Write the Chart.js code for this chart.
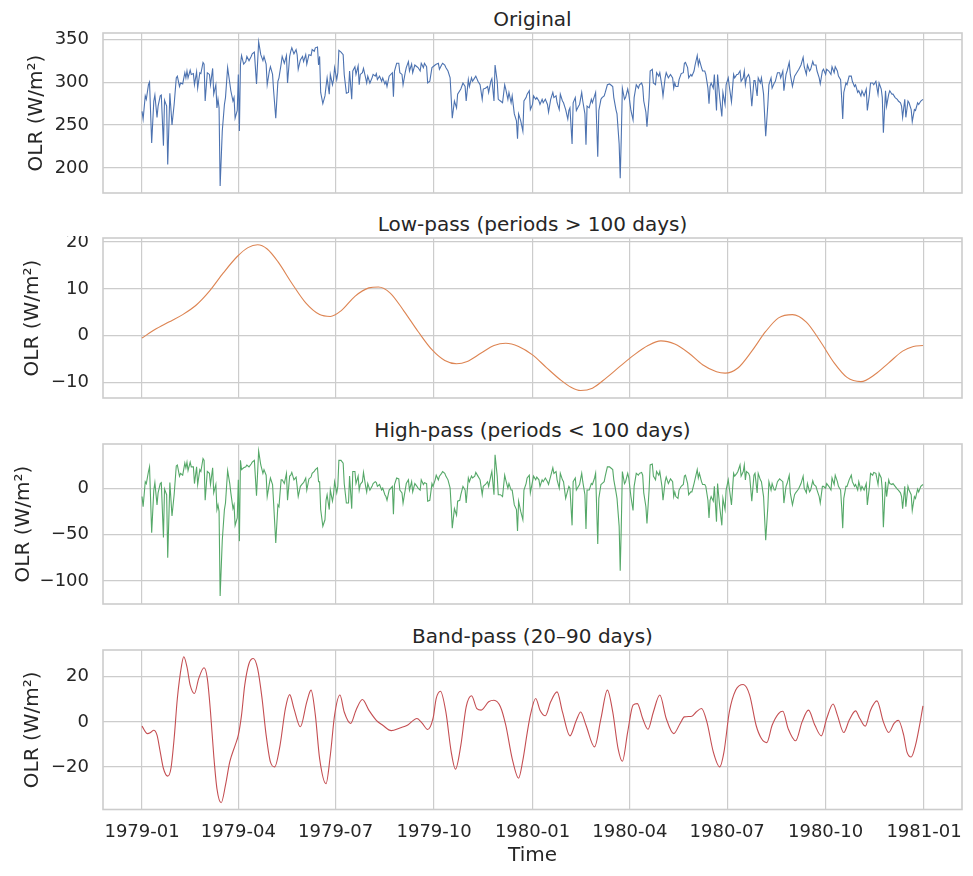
<!DOCTYPE html>
<html>
<head>
<meta charset="utf-8">
<title>OLR filtered series</title>
<script src="https://cdn.jsdelivr.net/npm/chart.js@4.4.1/dist/chart.umd.min.js"></script>
<style>
    body {
        margin: 0;
        width: 973px;
        height: 876px;
        position: relative;
        overflow: hidden;
        background: #ffffff;
        font-family: "DejaVu Sans", sans-serif;
    }
    .panel-title {
        position: absolute;
        left: 103px;
        width: 859px;
        text-align: center;
        font-size: 20px;
        line-height: 20px;
        color: #262626;
        white-space: nowrap;
    }
    canvas {
        position: absolute;
        left: 0;
    }
</style>
</head>
<body>
<div class="panel-title" style="top:8.8px">Original</div>
<div class="panel-title" style="top:213.8px">Low-pass (periods &gt; 100 days)</div>
<div class="panel-title" style="top:419.8px">High-pass (periods &lt; 100 days)</div>
<div class="panel-title" style="top:625.8px">Band-pass (20–90 days)</div>

<canvas id="originalChart" width="973" height="164" style="top:31px"></canvas>
<canvas id="lowChart" width="973" height="164" style="top:236px"></canvas>
<canvas id="highChart" width="973" height="164" style="top:442px"></canvas>
<canvas id="bandChart" width="973" height="228" style="top:648px"></canvas>

<script>
// x axis: days since 1979-01-01
const xTickDays = [0, 90, 181, 273, 365, 456, 547, 639, 731];
const xTickLabels = ['1979-01', '1979-04', '1979-07', '1979-10', '1980-01',
                     '1980-04', '1980-07', '1980-10', '1981-01'];

// Original and high-pass series (same days)
const origDays = [
    0,1,3,4,6,7,9,11,12,14, 15,17,18,20,21,23,24,26,28,30,
    32,33,35,36,38,40,41,42,43,45, 46,48,49,51,52,54,55,57,58,59,
    61,63,64,66,67,69,70,71,72,73, 75,77,78,80,82,83,85,86,87,89,
    90,91,92,93,95,97,98,100,102,103, 105,107,109,111,113,114,116,117,119,120,
    122,123,125,127,128,130,131,133,135,136, 138,139,140,142,144,145,146,148,150,151,
    153,154,156,158,159,161,162,164,165,166, 167,169,171,172,173,175,176,178,179,180,
    182,183,184,186,188,189,191,193,194,196, 197,199,200,202,203,204,206,207,209,210,
    211,213,215,216,218,219,220,222,224,225, 227,228,229,231,
    234,235,236,238,240,241,243,244,246,247, 249,250,252,253,255,257,258,260,261,263,
    264,266,267,269,271,272,274,275,277,278, 280,281,283,284,286,288,289,290,292,294,
    295,297,298,300,302,303,305,306,308,309, 311,312,314,316,318,319,321,323,324,326,
    327,329,330,332,333,335,337,339,340,342, 343,345,346,348,350,351,352,354,356,357,
    359,360,362,363,365,366,368,369,371,372, 374,375,377,379,380,382,384,385,387,388,
    390,391,393,394,396,398,399,400,402,403, 405,406,408,409,411,412,414,415,416,418,
    420,421,423,424,426,427,429,430,432,433, 435,437,438,440,441,443,444,446,447,448,
    449,451,452,454,455,457,459,460,462,464, 465,467,468,469,471,472,474,475,477,478,
    480,481,483,484,486,487,489,490,492,
    494,496,497,498,499,501,502,504,506,507, 508,510,511,513,514,516,517,519,520,521,
    523,524,526,527,529,530,531,532,534,535, 537,538,540,542,543,545,546,548,549,551,
    553,554,556,557,559,560,562,563,564,565, 567,568,570,572,573,575,576,578,579,581,
    583,585,586,588,589,591,592,594,596,597, 599,600,602,603,605,606,608,610,611,613,
    614,616,618,619,621,622,624,625,627,628, 630,631,633,634,636,637,639,640,642,644,
    645,647,648,650,651,653,654,655,656,658, 659,661,663,664,666,667,669,670,672,673,
    675,677,678,680,681,683,684,686,688,689, 691,692,693,695,696,698,699,701,702,704,
    706,707,709,710,711,713,714,716,717,719, 720,722,723,725,726,728,730
];

const origOlr = [
    266,257,284,280,297,300,229,278,285,259, 272,284,285,226,279,272,204,287,250,274,
    305,307,295,299,298,311,305,313,305,314, 309,310,297,312,293,311,310,323,321,278,
    311,309,297,316,286,297,270,280,270,179, 243,274,282,317,299,290,278,282,258,267,
    309,243,321,331,321,324,330,325,330,333, 335,298,347,332,325,330,321,297,313,318,
    309,290,258,301,305,321,330,322,331,299, 330,336,340,333,338,332,315,326,330,324,
    332,321,332,331,338,336,340,341,320,330, 288,275,284,295,305,286,309,297,303,317,
    303,311,337,335,332,309,287,288,313,280, 313,318,309,319,297,309,311,316,305,299,
    307,299,305,309,307,310,303,307,301,305, 298,301,295,307,
    311,283,313,322,322,311,309,297,311,317, 324,313,321,311,320,318,317,313,322,317,
    322,318,299,301,317,318,320,321,322,315, 320,322,320,317,313,305,282,258,278,270,
    286,290,292,299,295,278,303,295,305,301, 305,307,301,297,280,292,293,295,288,301,
    304,278,320,301,280,278,276,297,292,280, 288,276,284,263,255,234,263,255,243,278,
    282,286,290,268,274,284,280,282,278,274, 280,276,280,274,265,280,288,282,284,276,
    268,286,278,276,268,257,267,270,228,276, 282,267,272,274,288,278,263,227,272,270,
    280,276,284,288,213,267,280,282,284,288, 297,298,297,295,282,268,263,228,188,236,
    293,280,282,292,286,267,256,282,297,293, 297,299,295,278,265,248,282,313,315,299,
    297,311,307,311,295,284,305,311,305,
    309,305,293,299,295,295,303,310,311,322, 323,317,305,309,307,313,320,331,320,326,
    317,313,313,309,293,275,295,299,293,309, 267,309,282,260,288,274,297,305,295,277,
    309,305,309,309,313,301,305,313,297,305, 309,305,272,302,302,284,305,299,305,286,
    237,274,297,305,293,299,301,311,311,305, 313,290,309,313,323,309,295,307,309,313,
    315,320,329,318,309,320,313,315,324,320, 320,313,305,298,313,315,309,315,313,309,
    318,311,318,313,307,303,282,257,288,299, 297,307,307,301,295,297,288,290,284,290,
    284,292,267,286,299,299,297,301,286,299, 292,282,241,290,272,286,290,286,286,282,
    280,278,276,272,259,280,259,278,276,268, 254,268,267,276,274,278,280
];

const highOlr = [
    -9,-20,7,5,18,23,-48,-2,6,-18, -5,5,6,-53,-1,-7,-75,6,-30,-7,
    24,25,13,16,14,27,22,28,19,28, 23,23,5,23,4,20,18,32,30,-13,
    18,16,4,22,-5,4,-23,-18,-25,-116, -56,-23,-16,19,5,-5,-22,-18,-40,-32,
    9,-57,30,20,22,23,25,23,26,28, 30,-8,40,25,16,20,14,-9,5,11,
    4,-16,-59,-18,-20,9,9,5,16,-13, 13,14,17,9,12,2,-9,2,5,6,
    11,-2,10,12,16,18,20,22,7,7, -23,-41,-34,-13,-7,-23,-2,-14,-7,7,
    -5,2,30,30,27,5,-16,-16,13,-22, 18,18,5,13,-2,4,7,17,2,-4,
    5,-2,2,5,7,6,2,4,-2,0, -7,-9,-13,-2,
    2,-28,4,11,10,-2,-5,-16,-2,5, 9,-2,7,-4,5,2,0,-2,9,4,
    6,5,-14,-13,5,2,9,14,9,13, 16,18,16,13,9,0,-20,-43,-22,-29,
    -14,-13,-7,2,-2,-16,11,7,13,11, 13,17,13,9,-7,2,4,7,2,13,
    18,-7,36,13,-7,-7,-9,14,9,0, 5,-2,-2,-18,-23,-46,-14,-25,-34,-2,
    5,11,14,-5,7,13,9,12,9,2, 9,7,11,7,4,13,22,16,18,9,
    0,16,9,7,-11,-2,2,0,-40,7, 11,-2,2,4,16,7,-7,-44,-2,-2,
    5,4,11,16,-60,-11,4,5,7,13, 23,23,22,20,9,-4,-11,-41,-89,-41,
    18,5,7,16,11,-9,-24,2,16,14, 16,17,14,-5,-20,-38,-2,25,26,13,
    9,18,14,18,2,-13,7,12,5,
    10,7,-9,-4,-9,-11,-2,2,4,13, 14,5,-7,-4,-4,5,10,20,11,16,
    7,4,4,2,-13,-32,-13,-9,-14,2, -36,5,-20,-40,-11,-23,-2,9,0,-18,
    16,13,16,18,25,13,18,25,9,18, 16,13,-14,14,16,-5,16,9,7,-9,
    -56,-20,7,-2,5,-2,-2,7,10,9, 7,-16,2,5,14,-5,-18,-7,-5,-2,
    0,5,13,0,-5,5,-4,-2,8,4, 2,-2,-9,-16,2,2,0,5,2,-2,
    11,4,14,7,2,-2,-20,-43,-11,2, 2,9,14,7,2,4,-2,7,-2,2,
    -2,5,-18,2,16,14,17,16,4,16, 11,-2,-42,7,-9,9,5,4,5,2,
    -1,-2,-5,-9,-22,2,-20,2,-2,-7, -24,-9,-11,-1,-4,2,4
];

// Low-pass series
const lowDays = [
    0,12,25,38,51,63,76,89,99,108, 117,127,140,153,166,176,186,199,212,221,
    232,245,258,271,283,294,304,317,329,340, 352,365,378,391,401,410,421,434,447,460,
    473,485,498,511,524,537,545,557,570,583, 595,608,621,634,647,659,672,685,698,711,
    721,730
];
const lowOlr = [
    -0.5,1.3,2.9,4.5,6.6,9.5,13.4,16.9,18.8,19.4, 18.5,15.8,11.2,7.0,4.5,4.1,5.3,8.4,10.2,10.4,
    9.1,5.2,0.9,-3.0,-5.3,-6.0,-5.5,-3.7,-2.1,-1.6, -2.3,-4.1,-6.8,-9.4,-11.0,-11.7,-11.2,-9.0,-6.5,-4.1,
    -2.1,-1.1,-1.8,-3.7,-6.2,-7.7,-8.0,-6.9,-3.3,0.9, 3.8,4.5,2.9,-1.2,-5.8,-8.9,-9.8,-8.3,-5.8,-3.3,
    -2.3,-2.1
];

// Band-pass series
const bandDays = [
    0,5,8,11,14,17,20,24,27,30, 33,37,39,42,45,49,53,58,61,64,
    67,70,74,78,82,87,90,93,96,100, 104,108,112,116,120,124,129,134,138,142,
    148,154,158,162,166,172,176,180,185,189, 195,200,206,212,219,225,233,241,248,257,
    262,267,272,275,279,284,289,293,298,303, 308,313,317,324,329,335,340,346,352,356,
    360,363,368,372,377,382,388,393,400,406, 410,415,423,429,435,440,445,449,454,459,
    463,468,473,478,484,490,497,503,507,514, 518,523,528,534,540,544,549,555,562,568,
    574,579,584,589,595,599,604,611,617,623, 629,635,640,646,650,656,661,667,671,676,
    681,687,693,698,703,707,712,715,719,723, 728,730
];
const bandOlr = [
    -1.9,-5.2,-4.7,-3.7,-5.9,-13.3,-20.7,-24.1,-20.7,-7.4, 10.4,25.2,28.9,24.4,16.3,12.6,19.3,24.0,19.3,4.4,
    -14.8,-29.6,-35.9,-28.1,-17.8,-10.4,-5.9,3.0,16.3,25.9, 28.1,23.7,11.1,-5.9,-17.8,-20.0,-10.4,5.9,12.1,5.9,
    -2.2,8.9,14.1,3.0,-16.3,-27.4,-14.8,3.0,11.9,4.4, -0.7,5.2,9.9,5.2,0.7,-1.5,-3.9,-2.7,-1.5,1.5,
    -0.7,-3.4,1.5,10.4,13.6,4.4,-13.3,-21.0,-10.4,6.7, 11.6,5.9,5.2,8.9,9.6,6.7,-1.5,-16.3,-25.0,-17.0,
    -5.0,3.0,10.4,5.2,2.7,8.9,13.3,4.4,-6.2,0.7, 4.4,-1.5,-11.1,1.5,14.1,4.4,-11.9,-17.5,-4.4,7.4,
    8.1,1.5,-3.3,4.4,11.9,1.5,-5.2,-0.7,2.2,2.5, 4.4,5.9,0,-13.3,-20.0,-13.3,4.4,14.1,16.6,11.9,
    -1.5,-7.4,-9.2,-1.5,3.7,4.7,-3.0,-8.4,0,5.2, -1.5,-6.2,1.5,7.9,3.0,-4.7,0.7,4.9,1.5,-1.9,
    5.2,9.3,0,-4.7,-0.7,0.7,-5.9,-13.3,-15.6,-10.4, 1.5,7.1
];

const TEXT = '#262626';
const GRID = '#cccccc';
Chart.defaults.font.family = "'DejaVu Sans', sans-serif";

// use a real minus sign like matplotlib
function fmtTick(v) {
    return v < 0 ? '\u2212' + Math.abs(v) : String(v);
}

// light grey box round each plot area
const framePlugin = {
    id: 'frame',
    afterDraw(chart) {
        const a = chart.chartArea;
        const ctx = chart.ctx;
        ctx.save();
        ctx.strokeStyle = GRID;
        ctx.lineWidth = 1.6;
        ctx.strokeRect(a.left, a.top, a.right - a.left, a.bottom - a.top);
        ctx.restore();
    }
};

// keep the plot area fixed: no extra room for edge labels
function noEdgePadding(s) {
    s.paddingTop = 0;
    s.paddingBottom = 0;
    s.paddingLeft = 0;
    s.paddingRight = 0;
}

function makePanel(id, p) {
    const showX = !!p.showX;
    new Chart(document.getElementById(id), {
        type: 'line',
        data: {
            datasets: [{
                data: p.days.map((d, i) => ({ x: d, y: p.values[i] })),
                borderColor: p.color,
                borderWidth: 1.1,
                pointRadius: 0,
                fill: false,
                tension: 0,
                cubicInterpolationMode: p.smooth ? 'monotone' : 'default'
            }]
        },
        options: {
            responsive: false,
            animation: false,
            devicePixelRatio: 1,
            layout: { padding: { top: 2, bottom: showX ? 0 : 2, left: 0, right: 11 } },
            plugins: {
                legend: { display: false },
                tooltip: { enabled: false }
            },
            scales: {
                x: {
                    type: 'linear',
                    min: -36.5,
                    max: 766.5,
                    afterBuildTicks: s => { s.ticks = xTickDays.map(v => ({ value: v })); },
                    afterFit: s => {
                        s.height = showX ? p.xHeight : 0;
                        noEdgePadding(s);
                    },
                    grid: { color: GRID, lineWidth: 1.2, drawTicks: false },
                    border: { display: false },
                    ticks: {
                        display: showX,
                        autoSkip: false,
                        maxRotation: 0,
                        padding: 12,
                        color: TEXT,
                        font: { size: 18 },
                        callback: v => xTickLabels[xTickDays.indexOf(v)]
                    },
                    title: {
                        display: showX,
                        text: 'Time',
                        color: TEXT,
                        font: { size: 20 },
                        padding: { top: 0, bottom: 8 }
                    }
                },
                y: {
                    type: 'linear',
                    min: p.yMin,
                    max: p.yMax,
                    afterBuildTicks: s => { s.ticks = p.yTicks.map(v => ({ value: v })); },
                    afterFit: s => {
                        s.width = 103;
                        noEdgePadding(s);
                    },
                    grid: { color: GRID, lineWidth: 1.2, drawTicks: false },
                    border: { display: false },
                    ticks: {
                        padding: 14,
                        color: TEXT,
                        font: { size: 18 },
                        callback: v => fmtTick(v)
                    },
                    title: {
                        display: true,
                        text: 'OLR (W/m²)',
                        color: TEXT,
                        font: { size: 20 },
                        padding: { top: p.labelPad, bottom: 0 }
                    }
                }
            }
        },
        plugins: [framePlugin]
    });
}

makePanel('originalChart', {
    days: origDays, values: origOlr, color: '#4c72b0',
    yMin: 170.8, yMax: 357.3, yTicks: [200, 250, 300, 350], labelPad: 24.5
});
makePanel('lowChart', {
    days: lowDays, values: lowOlr, color: '#dd8452', smooth: true,
    yMin: -13.3, yMax: 20.85, yTicks: [-10, 0, 10, 20], labelPad: 21
});
makePanel('highChart', {
    days: origDays, values: highOlr, color: '#55a868',
    yMin: -124.7, yMax: 47.6, yTicks: [-100, -50, 0], labelPad: 11.5
});
makePanel('bandChart', {
    days: bandDays, values: bandOlr, color: '#c44e52', smooth: true,
    yMin: -38.9, yMax: 31.9, yTicks: [-20, 0, 20], labelPad: 21,
    showX: true, xHeight: 66.5
});
</script>
</body>
</html>
